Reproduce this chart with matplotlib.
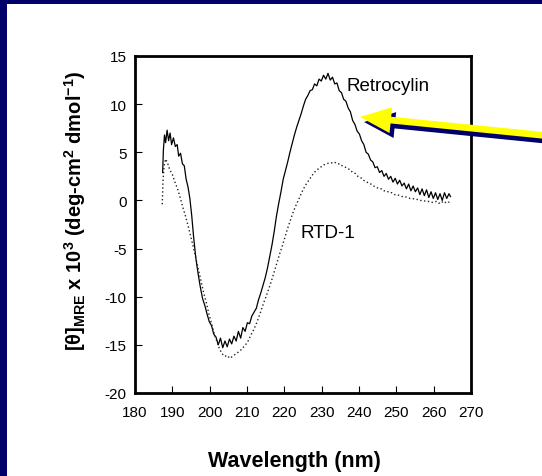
import matplotlib
matplotlib.use("Agg")
import matplotlib.pyplot as plt
from matplotlib.patches import FancyArrow, Rectangle

plt.rcParams['font.family'] = ['Liberation Sans', 'DejaVu Sans']
plt.rcParams['mathtext.fontset'] = 'custom'
plt.rcParams['mathtext.rm'] = 'Liberation Sans:bold'
plt.rcParams['mathtext.it'] = 'Liberation Sans:bold'
plt.rcParams['mathtext.bf'] = 'Liberation Sans:bold'

# Retrocylin (solid) wavelength / ellipticity
retro_wl = [187.4, 187.6, 187.9, 188.2, 188.6, 189.0, 189.4, 189.8, 190.3, 190.8,
            191.3, 191.7, 192.2, 192.7, 193.2, 193.7, 194.2, 194.7, 195.2, 195.7,
            196.3, 196.9, 197.5, 198.1, 198.7, 199.3, 199.9, 200.5, 201.1, 201.7,
            202.3, 202.9, 203.5, 204.1, 204.7, 205.3, 205.9, 206.5, 207.1, 207.7,
            208.3, 208.9, 209.5, 210.1, 210.7, 211.3, 211.9, 212.5, 213.1, 213.7,
            214.3, 214.9, 215.5, 216.1, 216.7, 217.3, 217.9, 218.5, 219.1, 219.7,
            220.3, 220.9, 221.5, 222.1, 222.7, 223.3, 223.9, 224.5, 225.1, 225.7,
            226.3, 226.9, 227.5, 228.1, 228.7, 229.3, 229.9, 230.5, 231.1, 231.7,
            232.3, 232.9, 233.5, 234.1, 234.7, 235.3, 235.9, 236.5, 237.1, 237.7,
            238.3, 238.9, 239.5, 240.1, 240.7, 241.3, 241.9, 242.5, 243.1, 243.7,
            244.3, 244.9, 245.5, 246.1, 246.7, 247.3, 247.9, 248.5, 249.1, 249.7,
            250.3, 250.9, 251.5, 252.1, 252.7, 253.3, 253.9, 254.5, 255.1, 255.7,
            256.3, 256.9, 257.5, 258.1, 258.7, 259.3, 259.9, 260.5, 261.1, 261.7,
            262.3, 262.9, 263.5, 264.1, 264.5]
retro_val = [2.9, 5.2, 6.8, 6.0, 7.3, 6.2, 7.0, 5.8, 6.5, 5.6,
             5.8, 4.6, 4.9, 3.8, 3.6, 2.2, 1.4, 0.2, -1.6, -3.8,
             -6.0, -7.6, -9.0, -10.2, -10.9, -11.8, -12.6, -13.0, -13.9, -14.2,
             -15.0, -14.3, -15.3, -14.6, -15.2, -14.4, -14.9, -14.1, -14.6, -13.6,
             -14.3, -13.2, -13.6, -12.7, -12.8, -12.0, -11.6, -11.2, -10.3, -9.6,
             -8.8, -8.0, -7.0, -5.8, -4.6, -3.2, -1.6, -0.3, 0.9, 2.2,
             3.1, 4.0, 5.0, 5.9, 6.8, 7.6, 8.3, 9.0, 9.8, 10.5,
             10.9, 11.4, 11.5, 12.1, 11.9, 12.6, 12.4, 13.0, 12.6, 13.2,
             12.5, 12.8, 12.1, 12.2, 11.4, 11.2, 10.5, 10.3, 9.6, 9.2,
             8.3, 7.9, 7.2, 6.9, 6.2, 5.8, 5.0, 4.8, 4.2, 4.0,
             3.4, 3.5, 2.9, 3.1, 2.5, 2.8, 2.2, 2.5, 1.9, 2.3,
             1.7, 2.1, 1.5, 1.8, 1.2, 1.7, 1.0, 1.5, 0.9, 1.3,
             0.6, 1.2, 0.5, 1.1, 0.3, 0.9, 0.2, 0.8, 0.1, 0.7,
             0.0, 0.8, 0.2, 0.7, 0.4]

# RTD-1 (dotted)
rtd_wl = [187.3, 187.5, 187.8, 188.2, 188.7, 189.3, 190.0, 190.7, 191.4, 192.1,
          192.8, 193.5, 194.2, 194.9, 195.6, 196.3, 197.0, 197.7, 198.4, 199.1,
          199.8, 200.5, 201.2, 201.9, 202.6, 203.3, 204.0, 204.7, 205.4, 206.1,
          206.8, 207.5, 208.2, 208.9, 209.6, 210.3, 211.0, 211.7, 212.4, 213.1,
          213.8, 214.5, 215.2, 215.9, 216.6, 217.3, 218.0, 218.7, 219.4, 220.1,
          220.8, 221.5, 222.2, 222.9, 223.6, 224.3, 225.0, 225.7, 226.4, 227.1,
          227.8, 228.5, 229.2, 229.9, 230.6, 231.3, 232.0, 232.7, 233.4, 234.1,
          234.8, 235.5, 236.2, 236.9, 237.6, 238.3, 239.0, 239.7, 240.4, 241.1,
          241.8, 242.5, 243.2, 243.9, 244.6, 245.3, 246.0, 246.7, 247.4, 248.1,
          248.8, 249.5, 250.2, 250.9, 251.6, 252.3, 253.0, 253.7, 254.4, 255.1,
          255.8, 256.5, 257.2, 257.9, 258.6, 259.3, 260.0, 260.7, 261.4, 262.1,
          262.8, 263.5, 264.2]
rtd_val = [-0.4, 2.0, 3.6, 4.3, 3.9, 3.2, 2.7, 1.9, 1.2, 0.3,
           -0.7, -1.6, -2.6, -3.7, -4.8, -6.0, -7.2, -8.4, -9.6, -10.6,
           -11.8, -12.8, -13.8, -14.6, -15.4, -15.9, -16.2, -16.1, -16.4, -16.2,
           -16.0, -15.8, -15.6, -15.3, -15.0, -14.6, -14.0, -13.5, -12.9, -12.2,
           -11.4, -10.6, -9.9, -9.1, -8.3, -7.4, -6.5, -5.6, -4.8, -3.9,
           -3.0, -2.2, -1.4, -0.7, -0.1, 0.5, 1.1, 1.6, 2.0, 2.4,
           2.8, 3.1, 3.3, 3.5, 3.7, 3.8, 3.9, 3.9, 4.0, 3.8,
           3.8, 3.6, 3.5, 3.3, 3.2, 2.9, 2.8, 2.5, 2.4, 2.1,
           2.0, 1.8, 1.7, 1.5, 1.4, 1.2, 1.2, 1.0, 1.0, 0.8,
           0.8, 0.6, 0.6, 0.5, 0.4, 0.4, 0.3, 0.2, 0.2, 0.1,
           0.1, 0.0, 0.0, -0.1, -0.1, -0.2, -0.2, -0.1, -0.3, -0.1,
           -0.3, -0.1, -0.2]

x_ticks = [180, 190, 200, 210, 220, 230, 240, 250, 260, 270]
y_ticks = [-20, -15, -10, -5, 0, 5, 10, 15]

W, H = 542, 477
fig = plt.figure(figsize=(W / 100, H / 100), dpi=100)
fig.patch.set_facecolor('white')
navy = '#000068'

# navy frame (top band and left band)
fig.add_artist(Rectangle((0, 1 - 5 / H), 1, 5 / H, transform=fig.transFigure,
                         facecolor=navy, edgecolor='none', zorder=0))
fig.add_artist(Rectangle((0, 0), 7 / W, 1, transform=fig.transFigure,
                         facecolor=navy, edgecolor='none', zorder=0))

L, R, T, B = 135, 471, 57, 394
ax = fig.add_axes([L / W, 1 - B / H, (R - L) / W, (B - T) / H])
ax.plot(retro_wl, retro_val, color='black', lw=0.9)
ax.plot(rtd_wl, rtd_val, color='#222222', lw=1.0, linestyle=(0, (1, 1.8)))

ax.set_xlim(180, 270)
ax.set_ylim(-20, 15)
ax.set_xticks(x_ticks)
ax.set_yticks(y_ticks)
ax.set_xticklabels([str(t) for t in x_ticks])
ax.set_yticklabels([str(t) for t in y_ticks])
ax.tick_params(direction='in', length=5, width=0.8, labelsize=11,
               top=False, right=False)
ax.tick_params(axis='x', pad=8.5)
ax.tick_params(axis='y', pad=6)
for s in ax.spines.values():
    s.set_linewidth(2.0)

ax.text(236.7, 11.9, 'Retrocylin', fontsize=13.5, ha='left', va='center')
ax.text(224.2, -3.3, 'RTD-1', fontsize=13.5, ha='left', va='center')

fig.text(294 / W, 1 - 462 / H, 'Wavelength (nm)', fontsize=15.5,
         fontweight='bold', ha='center', va='center')
fig.text(75 / W, 1 - 211 / H,
         r'[θ]$_{\mathrm{MRE}}$ x 10$^{3}$ (deg-cm$^{2}$ dmol$^{-1}$)',
         fontsize=14.5, fontweight='bold', rotation=90,
         ha='center', va='center')

# arrow (yellow with navy shadow), in pixel space via inches
def px(x, y):
    return x / 100, (H - y) / 100

tail = (548, 136.8)
tip = (360, 118)
for off, col, z in (((4, 5), navy, 5), ((0, 0), '#ffff00', 6)):
    x0, y0 = px(tail[0] + off[0], tail[1] + off[1])
    x1, y1 = px(tip[0] + off[0], tip[1] + off[1])
    arr = FancyArrow(x0, y0, x1 - x0, y1 - y0, width=0.067, head_width=0.26,
                     head_length=0.31, length_includes_head=True,
                     transform=fig.dpi_scale_trans, facecolor=col,
                     edgecolor='none', zorder=z)
    fig.add_artist(arr)

fig.savefig('out.png', dpi=100)
